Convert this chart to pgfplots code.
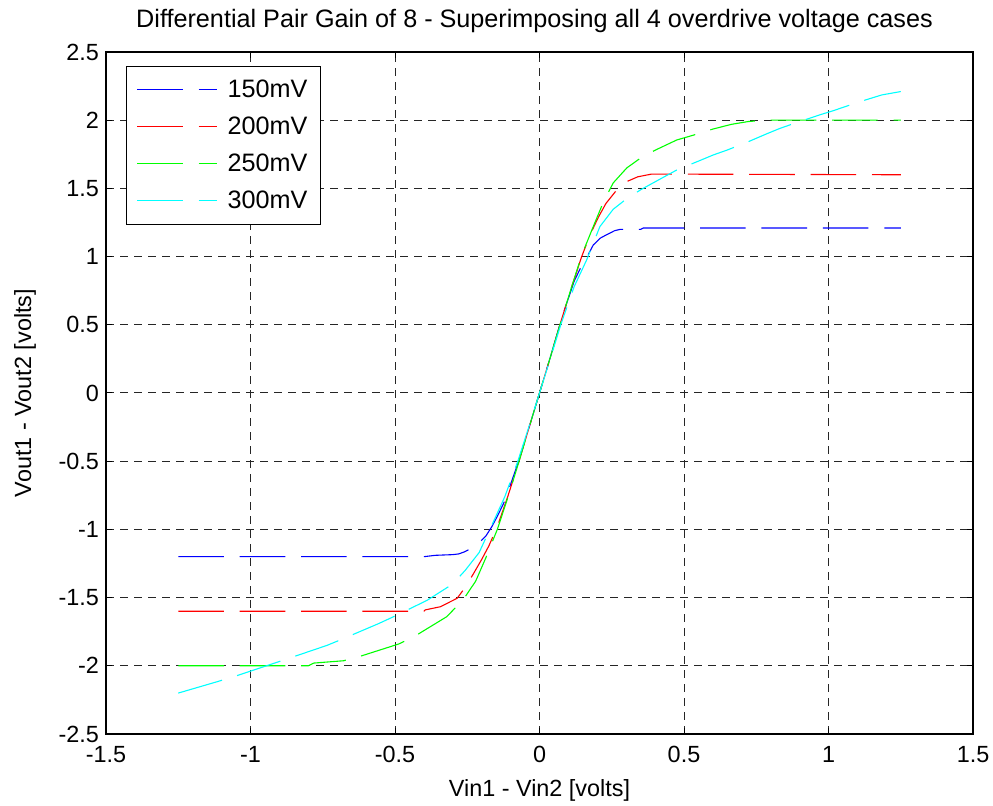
\documentclass[border=0pt]{standalone}
\usepackage{pgfplots}
\pgfplotsset{compat=1.18}
\usepackage{fontspec}
\setmainfont{Liberation Sans}
\newcommand{\fs}{\fontsize{11.7}{14}\selectfont}
\newcommand{\fst}{\fontsize{12.6}{15}\selectfont}
\begin{document}
\begin{tikzpicture}
\begin{axis}[
  scale only axis,
  width=433.5pt, height=341pt,
  xmin=-1.5, xmax=1.5, ymin=-2.5, ymax=2.5,
  xtick={-1.5,-1,-0.5,0,0.5,1,1.5},
  xticklabels={-1.5,-1,-0.5,0,0.5,1,1.5},
  ytick={-2.5,-2,-1.5,-1,-0.5,0,0.5,1,1.5,2,2.5},
  yticklabels={-2.5,-2,-1.5,-1,-0.5,0,0.5,1,1.5,2,2.5},
  tick align=inside, tick pos=both,
  major tick length=3pt,
  tick style={black, line width=0.5pt},
  axis line style={black, line width=0.6pt},
  grid=major,
  major grid style={black!85, line width=0.5pt, dash pattern=on 4pt off 3pt},
  ticklabel style={font=\fs},
  xticklabel style={yshift=-2.5pt},
  xlabel={Vin1 - Vin2 [volts]},
  ylabel={Vout1 - Vout2 [volts]},
  xlabel style={font=\fs, at={(axis description cs:0.5,0)}, anchor=center, yshift=-28pt},
  ylabel style={font=\fs, at={(axis description cs:0,0.5)}, anchor=center, yshift=40.5pt},
  title={Differential Pair Gain of 8 - Superimposing all 4 overdrive voltage cases},
  title style={font=\fst, at={(axis description cs:0.5,1)}, anchor=center, yshift=9.5pt, xshift=-2.5pt},
  every axis plot/.append style={line width=0.55pt, dash pattern=on 22.8pt off 7.9pt},
  legend image code/.code={\draw[#1] (0pt,0pt) -- (40pt,0pt);},
  legend style={at={(axis description cs:0,1)}, anchor=north west, xshift=10pt, yshift=-7pt,
    draw=black, line width=0.6pt, font=\fst, row sep=5.2pt, column sep=3.5pt, inner xsep=5pt, inner ysep=5pt,
    nodes={inner sep=1.5pt}},
  legend cell align=left,
]
\addplot[color={rgb,1:red,0;green,0;blue,1}] coordinates {
(-1.25,-1.2)(-0.40,-1.2)(-0.36,-1.19)(-0.30,-1.185)(-0.28,-1.18)(-0.26,-1.165)(-0.232,-1.135)(-0.21,-1.10)(-0.186,-1.05)(-0.165,-0.98)(-0.145,-0.90)(-0.12,-0.79)(-0.077,-0.53)(-0.04,-0.28)(0,0)
(0.04,0.28)(0.077,0.55)(0.12,0.82)(0.145,0.93)(0.165,1.0)(0.186,1.085)(0.21,1.135)(0.232,1.16)(0.26,1.19)(0.28,1.20)(0.35,1.20)(0.36,1.21)(1.25,1.21)
};
\addlegendentry{150mV}
\addplot[color={rgb,1:red,1;green,0;blue,0}] coordinates {
(-1.25,-1.6)(-0.40,-1.6)(-0.395,-1.59)(-0.343,-1.567)(-0.285,-1.505)(-0.257,-1.425)(-0.23,-1.33)(-0.20,-1.22)(-0.175,-1.12)(-0.146,-0.98)(-0.11,-0.76)(-0.075,-0.53)(-0.04,-0.28)(0,0)
(0.04,0.28)(0.075,0.53)(0.11,0.77)(0.146,1.0)(0.175,1.16)(0.204,1.29)(0.23,1.39)(0.267,1.488)(0.302,1.55)(0.34,1.585)(0.388,1.605)(1.25,1.6)
};
\addlegendentry{200mV}
\addplot[color={rgb,1:red,0;green,1;blue,0}] coordinates {
(-1.25,-2)(-0.80,-2.0)(-0.781,-1.98)(-0.678,-1.963)(-0.62,-1.93)(-0.487,-1.84)(-0.437,-1.79)(-0.321,-1.64)(-0.264,-1.515)(-0.221,-1.38)(-0.186,-1.21)(-0.146,-1.0)(-0.11,-0.77)(-0.075,-0.53)(-0.04,-0.28)(0,0)
(0.04,0.28)(0.075,0.53)(0.11,0.77)(0.146,1.01)(0.186,1.22)(0.221,1.40)(0.255,1.54)(0.302,1.65)(0.348,1.72)(0.40,1.78)(0.475,1.855)(0.532,1.89)(0.60,1.935)(0.665,1.97)(0.722,1.99)(0.78,2.0)(1.25,2.0)
};
\addlegendentry{250mV}
\addplot[color={rgb,1:red,0;green,1;blue,1}] coordinates {
(-1.25,-2.2)(-1.116,-2.117)(-1.058,-2.08)(-0.874,-1.95)(-0.735,-1.85)(-0.689,-1.81)(-0.556,-1.69)(-0.505,-1.64)(-0.389,-1.52)(-0.30,-1.40)(-0.257,-1.30)(-0.209,-1.17)(-0.163,-0.96)(-0.12,-0.76)(-0.075,-0.50)(-0.04,-0.27)(0,0)
(0.04,0.27)(0.075,0.51)(0.12,0.78)(0.163,0.975)(0.209,1.22)(0.255,1.347)(0.296,1.415)(0.35,1.49)(0.423,1.575)(0.475,1.635)(0.55,1.70)(0.601,1.745)(0.648,1.78)(0.72,1.84)(0.786,1.90)(0.832,1.94)(0.90,1.99)(0.971,2.04)(1.017,2.07)(1.10,2.13)(1.184,2.185)(1.25,2.21)
};
\addlegendentry{300mV}
\end{axis}
\pgfresetboundingbox
\path (current axis.south west) ++(-53pt,-36pt) rectangle ([shift={(10pt,26pt)}]current axis.north east);
\end{tikzpicture}
\end{document}
